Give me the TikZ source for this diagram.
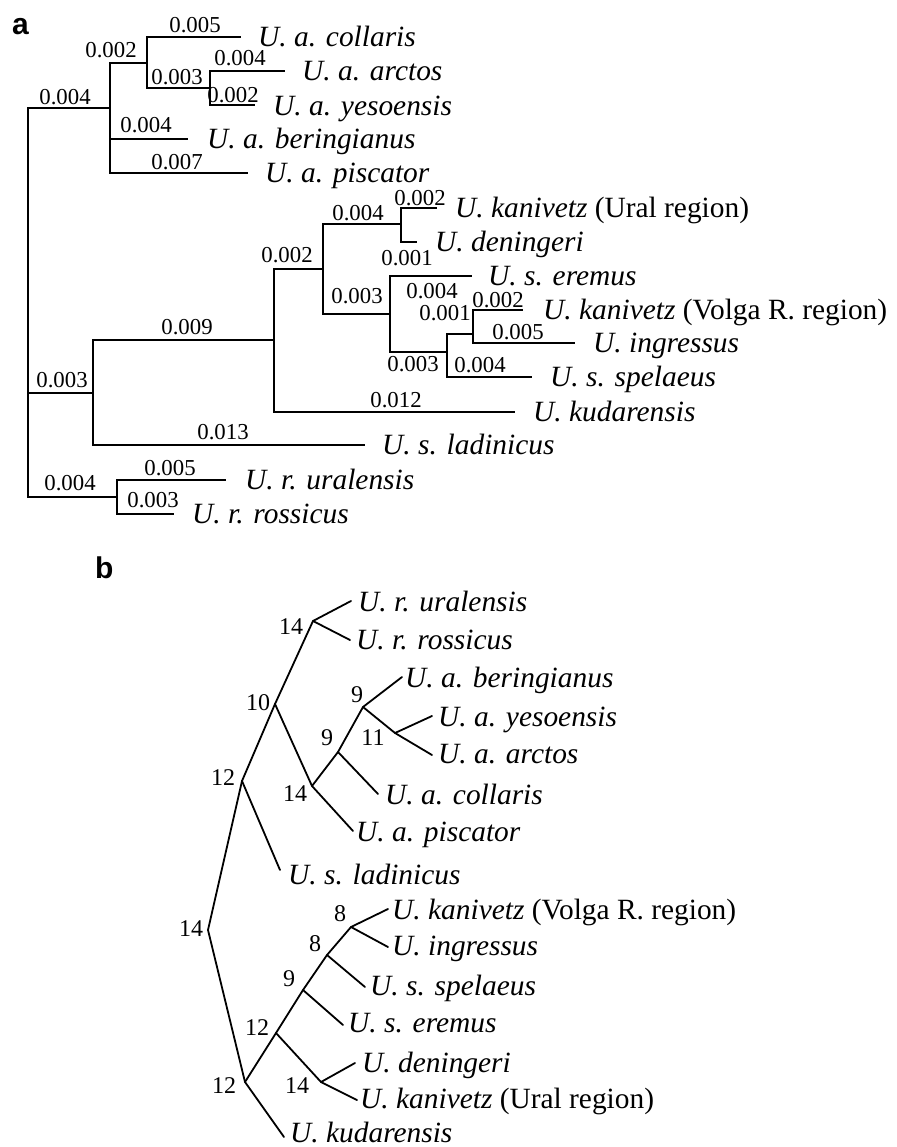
\documentclass[tikz,border=0pt]{standalone}
\usepackage{fontspec}
\setmainfont{Liberation Serif}
\newfontfamily\panelfont{Liberation Sans}
\usepackage{tikz}
\usetikzlibrary{positioning,calc}
\tikzstyle{taxon}= [anchor=base west, inner sep=0pt, yshift=-9.6pt, font=\itshape\fontsize{29.4}{31}\selectfont]
\tikzstyle{blen}= [anchor=base, inner sep=0pt, yshift=-7.6pt, font=\fontsize{22.8}{24}\selectfont]
\tikzstyle{boot}= [anchor=base, inner sep=0pt, yshift=-8pt, font=\fontsize{24}{26}\selectfont]
\tikzstyle{panel}= [anchor=base west, inner sep=0pt, font=\panelfont\bfseries\fontsize{30}{32}\selectfont]
\tikzstyle{edge}= [line width=2.6pt]
\tikzstyle{ray}= [line width=1.8pt, line cap=round]

\begin{document}
\begin{tikzpicture}[x=1pt, y=-1pt]
				\useasboundingbox (0,0) rectangle (896,1147);
				\node[panel] (pa) at (12, 35) {a};
				\node[panel] (pb) at (95, 578) {b};

				\coordinate (aR) at (28, 393);
				\coordinate (aA) at (110, 108);
				\coordinate (aB) at (147, 63);
				\coordinate (aC) at (210, 88);
				\coordinate (aD) at (93, 393);
				\coordinate (aE) at (274, 340);
				\coordinate (aF) at (323, 269);
				\coordinate (aG) at (401, 224);
				\coordinate (aH) at (390, 314);
				\coordinate (aJ) at (447, 352);
				\coordinate (aK) at (473, 334);
				\coordinate (aX) at (117, 497);

				\coordinate (ta1) at (241, 37);
				\coordinate (ta2) at (285, 71);
				\coordinate (ta3) at (255, 105);
				\coordinate (ta4) at (188, 139);
				\coordinate (ta5) at (248, 173);
				\coordinate (ta6) at (437, 208);
				\coordinate (ta7) at (417, 242);
				\coordinate (ta8) at (472, 276);
				\coordinate (ta9) at (523, 310);
				\coordinate (ta10) at (575, 343);
				\coordinate (ta11) at (532, 377);
				\coordinate (ta12) at (515, 412);
				\coordinate (ta13) at (365, 445);
				\coordinate (ta14) at (226, 480);
				\coordinate (ta15) at (174, 514);

				\node[taxon] (na1) at (258, 37) {U. a. collaris};
				\node[taxon] (na2) at (302, 71) {U. a. arctos};
				\node[taxon] (na3) at (273, 106) {U. a. yesoensis};
				\node[taxon] (na4) at (207, 139) {U. a. beringianus};
				\node[taxon] (na5) at (265, 173) {U. a. piscator};
				\node[taxon] (na6) at (455, 208) {U. kanivetz \textup{(Ural region)}};
				\node[taxon] (na7) at (435, 242) {U. deningeri};
				\node[taxon] (na8) at (488, 276) {U. s. eremus};
				\node[taxon] (na9) at (543, 310) {U. kanivetz \textup{(Volga R. region)}};
				\node[taxon] (na10) at (593, 343) {U. ingressus};
				\node[taxon] (na11) at (550, 377) {U. s. spelaeus};
				\node[taxon] (na12) at (533, 412) {U. kudarensis};
				\node[taxon] (na13) at (382, 445) {U. s. ladinicus};
				\node[taxon] (na14) at (245, 480) {U. r. uralensis};
				\node[taxon] (na15) at (192, 514) {U. r. rossicus};

				\draw[edge] (aR) |- (aA);
				\draw[edge] (aR) -- (aD);
				\draw[edge] (aR) |- (aX);
				\draw[edge] (aA) |- (aB);
				\draw[edge] (aA) |- (ta4);
				\draw[edge] (aA) |- (ta5);
				\draw[edge] (aB) |- (ta1);
				\draw[edge] (aB) |- (aC);
				\draw[edge] (aC) |- (ta2);
				\draw[edge] (aC) |- (ta3);
				\draw[edge] (aD) |- (aE);
				\draw[edge] (aD) |- (ta13);
				\draw[edge] (aE) |- (aF);
				\draw[edge] (aE) |- (ta12);
				\draw[edge] (aF) |- (aG);
				\draw[edge] (aF) |- (aH);
				\draw[edge] (aG) |- (ta6);
				\draw[edge] (aG) |- (ta7);
				\draw[edge] (aH) |- (ta8);
				\draw[edge] (aH) |- (aJ);
				\draw[edge] (aJ) |- (aK);
				\draw[edge] (aJ) |- (ta11);
				\draw[edge] (aK) |- (ta9);
				\draw[edge] (aK) |- (ta10);
				\draw[edge] (aX) |- (ta14);
				\draw[edge] (aX) |- (ta15);

				\node[blen] (la1) at (65, 97) {0.004};
				\node[blen] (la2) at (111, 50) {0.002};
				\node[blen] (la3) at (195, 25) {0.005};
				\node[blen] (la4) at (177, 77) {0.003};
				\node[blen] (la5) at (240, 58) {0.004};
				\node[blen] (la6) at (233, 95) {0.002};
				\node[blen] (la7) at (146, 125) {0.004};
				\node[blen] (la8) at (177, 162) {0.007};
				\node[blen] (la9) at (62, 380) {0.003};
				\node[blen] (la10) at (187, 327) {0.009};
				\node[blen] (la11) at (287, 255) {0.002};
				\node[blen] (la12) at (358, 213) {0.004};
				\node[blen] (la13) at (420, 198) {0.002};
				\node[blen] (la14) at (407, 258) {0.001};
				\node[blen] (la15) at (357, 296) {0.003};
				\node[blen] (la16) at (432, 291) {0.004};
				\node[blen] (la17) at (413, 364) {0.003};
				\node[blen] (la18) at (445, 313) {0.001};
				\node[blen] (la19) at (498, 300) {0.002};
				\node[blen] (la20) at (518, 332) {0.005};
				\node[blen] (la21) at (480, 365) {0.004};
				\node[blen] (la22) at (396, 400) {0.012};
				\node[blen] (la23) at (223, 432) {0.013};
				\node[blen] (la24) at (70, 483) {0.004};
				\node[blen] (la25) at (170, 468) {0.005};
				\node[blen] (la26) at (153, 500) {0.003};

				\coordinate (b14r) at (208, 930);
				\coordinate (b12a) at (242, 781);
				\coordinate (b10) at (275, 704);
				\coordinate (b14a) at (313, 621);
				\coordinate (b14b) at (312, 786);
				\coordinate (b9a) at (338, 752);
				\coordinate (b9b) at (363, 707);
				\coordinate (b11) at (395, 733);
				\coordinate (b12b) at (245, 1082);
				\coordinate (b12c) at (276, 1033);
				\coordinate (b14c) at (321, 1082);
				\coordinate (b9c) at (303, 990);
				\coordinate (b8a) at (327, 955);
				\coordinate (b8b) at (351, 927);

				\coordinate (tb1) at (351, 601);
				\coordinate (tb2) at (350, 640);
				\coordinate (tb3) at (402, 677);
				\coordinate (tb4) at (432, 716);
				\coordinate (tb5) at (432, 755);
				\coordinate (tb6) at (378, 794);
				\coordinate (tb7) at (353, 831);
				\coordinate (tb8) at (280, 870);
				\coordinate (tb9) at (388, 909);
				\coordinate (tb10) at (388, 947);
				\coordinate (tb11) at (365, 987);
				\coordinate (tb12) at (343, 1025);
				\coordinate (tb13) at (355, 1063);
				\coordinate (tb14) at (357, 1100);
				\coordinate (tb15) at (284, 1137);

				\node[taxon] (nb1) at (358, 602) {U. r. uralensis};
				\node[taxon] (nb2) at (356, 640) {U. r. rossicus};
				\node[taxon] (nb3) at (405, 678) {U. a. beringianus};
				\node[taxon] (nb4) at (438, 717) {U. a. yesoensis};
				\node[taxon] (nb5) at (438, 754) {U. a. arctos};
				\node[taxon] (nb6) at (385, 795) {U. a. collaris};
				\node[taxon] (nb7) at (356, 832) {U. a. piscator};
				\node[taxon] (nb8) at (288, 875) {U. s. ladinicus};
				\node[taxon] (nb9) at (392, 910) {U. kanivetz \textup{(Volga R. region)}};
				\node[taxon] (nb10) at (392, 946) {U. ingressus};
				\node[taxon] (nb11) at (370, 986) {U. s. spelaeus};
				\node[taxon] (nb12) at (348, 1023) {U. s. eremus};
				\node[taxon] (nb13) at (362, 1063) {U. deningeri};
				\node[taxon] (nb14) at (360, 1099) {U. kanivetz \textup{(Ural region)}};
				\node[taxon] (nb15) at (290, 1133) {U. kudarensis};

				\draw[ray] (b14r) -- (b12a);
				\draw[ray] (b14r) -- (b12b);
				\draw[ray] (b12a) -- (b10);
				\draw[ray] (b12a) -- (tb8);
				\draw[ray] (b10) -- (b14a);
				\draw[ray] (b10) -- (b14b);
				\draw[ray] (b14a) -- (tb1);
				\draw[ray] (b14a) -- (tb2);
				\draw[ray] (b14b) -- (b9a);
				\draw[ray] (b14b) -- (tb7);
				\draw[ray] (b9a) -- (b9b);
				\draw[ray] (b9a) -- (tb6);
				\draw[ray] (b9b) -- (tb3);
				\draw[ray] (b9b) -- (b11);
				\draw[ray] (b11) -- (tb4);
				\draw[ray] (b11) -- (tb5);
				\draw[ray] (b12b) -- (b12c);
				\draw[ray] (b12b) -- (tb15);
				\draw[ray] (b12c) -- (b9c);
				\draw[ray] (b12c) -- (b14c);
				\draw[ray] (b14c) -- (tb13);
				\draw[ray] (b14c) -- (tb14);
				\draw[ray] (b9c) -- (b8a);
				\draw[ray] (b9c) -- (tb12);
				\draw[ray] (b8a) -- (b8b);
				\draw[ray] (b8a) -- (tb11);
				\draw[ray] (b8b) -- (tb9);
				\draw[ray] (b8b) -- (tb10);

				\node[boot] (lb1) at (191, 928) {14};
				\node[boot] (lb2) at (223, 777) {12};
				\node[boot] (lb3) at (258, 702) {10};
				\node[boot] (lb4) at (291, 626) {14};
				\node[boot] (lb5) at (295, 793) {14};
				\node[boot] (lb6) at (327, 737) {9};
				\node[boot] (lb7) at (357, 694) {9};
				\node[boot] (lb8) at (373, 737) {11};
				\node[boot] (lb9) at (224, 1085) {12};
				\node[boot] (lb10) at (257, 1027) {12};
				\node[boot] (lb11) at (297, 1085) {14};
				\node[boot] (lb12) at (289, 978) {9};
				\node[boot] (lb13) at (315, 943) {8};
				\node[boot] (lb14) at (340, 913) {8};
			\end{tikzpicture}
\end{document}
